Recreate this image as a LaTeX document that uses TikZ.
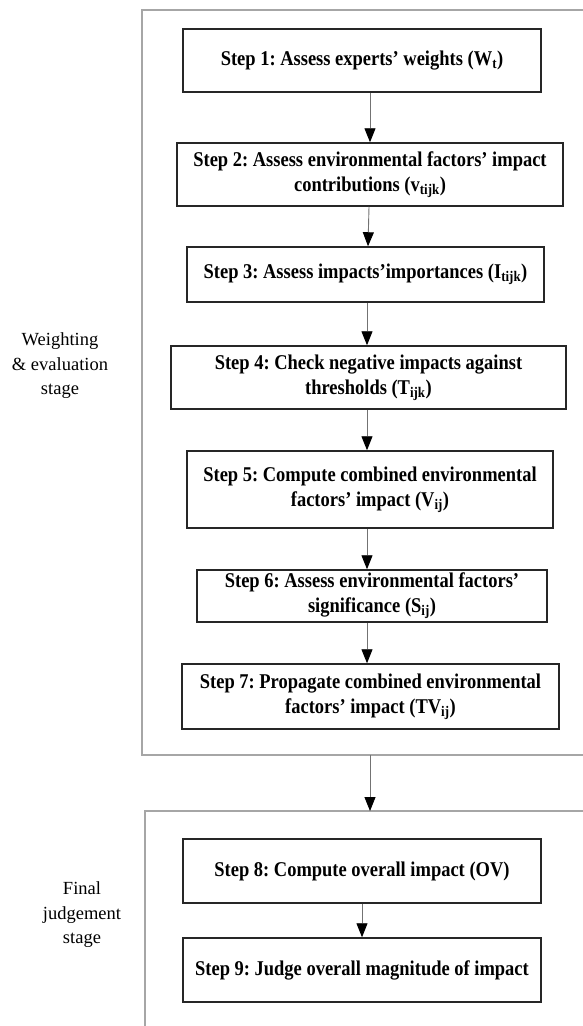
\documentclass[tikz,border=0pt]{standalone}
\usepackage{fontspec}
\setmainfont{Liberation Serif}
\newfontfamily\boxfont[FakeStretch=0.88]{Liberation Serif}
\usetikzlibrary{arrows.meta}
\frenchspacing
\begin{document}
\begin{tikzpicture}[x=1pt,y=-1pt,
  stepbox/.style={draw=black!85, line width=1.5pt, inner sep=0pt, align=center,
    font=\boxfont\fontsize{21}{25}\selectfont\bfseries},
  frameline/.style={draw=black!35, line width=1.2pt},
  conn/.style={draw=black!55, line width=0.9pt,
    -{Triangle[length=14pt,width=11pt,color=black,fill=black]}},
  stagelabel/.style={align=center, font=\fontsize{18.5}{24.5}\selectfont}]
\useasboundingbox (0,0) rectangle (582,1026);

% frames
\draw[frameline] (592,10) -- (142,10) -- (142,755) -- (592,755);
\draw[frameline] (592,811) -- (145,811) -- (145,1035);
\coordinate (f1b) at (370,755);
\coordinate (f2t) at (370,811);

% stage labels
\node[stagelabel] (lab1) at (60,366) {Weighting\\\& evaluation\\stage};
\node[stagelabel] (lab2) at (82,915) {Final\\judgement\\stage};

% steps
\node[stepbox, minimum width=358pt, minimum height=63pt] (b1) at (362,60.5)
  {Step 1: Assess experts’ weights (W\textsubscript{t})};
\node[stepbox, minimum width=386pt, minimum height=63pt] (b2) at (370,174.5)
  {Step 2: Assess environmental factors’ impact\\contributions (v\textsubscript{tijk})};
\node[stepbox, minimum width=357pt, minimum height=55pt] (b3) at (365.5,274.5)
  {Step 3: Assess impacts’importances (I\textsubscript{tijk})};
\node[stepbox, minimum width=395pt, minimum height=63pt] (b4) at (368.5,377.5)
  {Step 4: Check negative impacts against\\thresholds (T\textsubscript{ijk})};
\node[stepbox, minimum width=366pt, minimum height=77pt] (b5) at (370,489.5)
  {Step 5: Compute combined environmental\\factors’ impact (V\textsubscript{ij})};
\node[stepbox, minimum width=350pt, minimum height=52pt] (b6) at (372,596)
  {Step 6: Assess environmental factors’\\significance (S\textsubscript{ij})};
\node[stepbox, minimum width=377pt, minimum height=65pt] (b7) at (370.5,696.5)
  {Step 7: Propagate combined environmental\\factors’ impact (TV\textsubscript{ij})};
\node[stepbox, minimum width=358pt, minimum height=64pt] (b8) at (362,871)
  {Step 8: Compute overall impact (OV)};
\node[stepbox, minimum width=358pt, minimum height=64pt] (b9) at (362,970)
  {Step 9: Judge overall magnitude of impact};

% connectors
\draw[conn] ([xshift=8pt]b1.south) -- (b2.north);
\draw[conn] ([xshift=-1pt]b2.south) -- ([xshift=2.5pt]b3.north);
\draw[conn] ([xshift=1.5pt]b3.south) -- ([xshift=-1.5pt]b4.north);
\draw[conn] ([xshift=-1.5pt]b4.south) -- ([xshift=-3pt]b5.north);
\draw[conn] ([xshift=-3pt]b5.south) -- ([xshift=-5pt]b6.north);
\draw[conn] ([xshift=-5pt]b6.south) -- ([xshift=-3.5pt]b7.north);
\draw[conn] (f1b) -- (f2t);
\draw[conn] (b8.south) -- (b9.north);
\end{tikzpicture}
\end{document}
